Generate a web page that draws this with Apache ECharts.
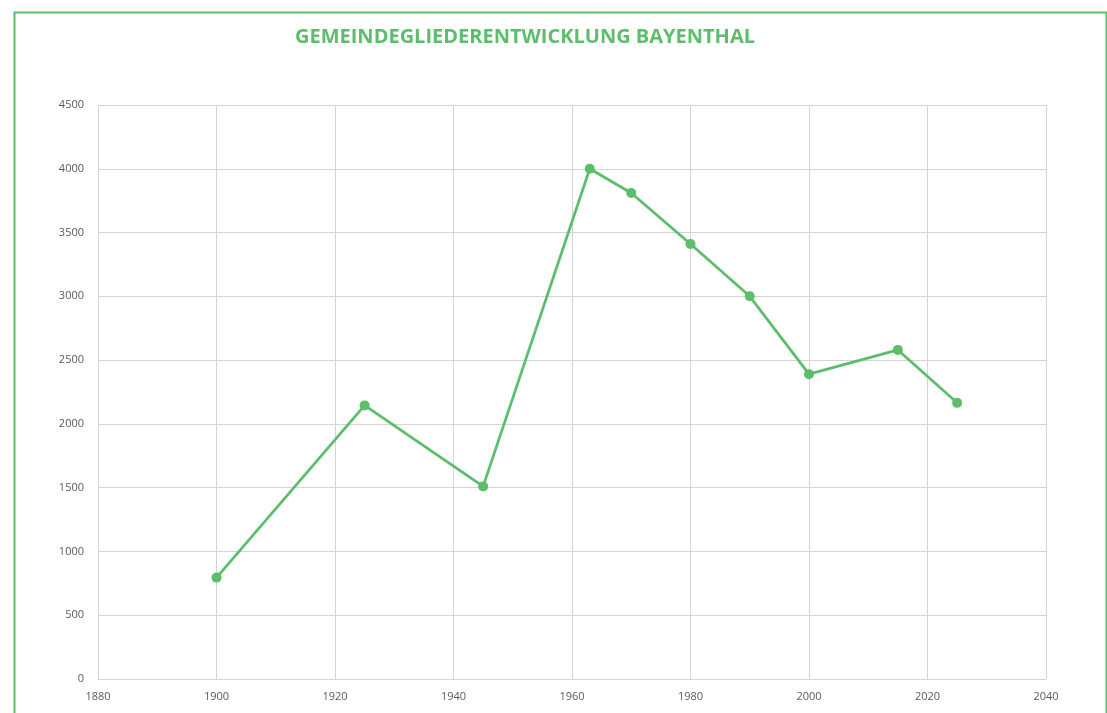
<!DOCTYPE html>
<html>
<head>
<meta charset="utf-8">
<script src="https://cdn.jsdelivr.net/npm/echarts@6/dist/echarts.min.js"></script>
<style>
html,body{margin:0;padding:0;background:#fff;}
#chart{width:1107px;height:713px;}
</style>
</head>
<body>
<div id="chart"></div>
<script>
const title = "GEMEINDEGLIEDERENTWICKLUNG BAYENTHAL";
const years = [1900, 1925, 1945, 1963, 1970, 1980, 1990, 2000, 2015, 2025];
const members = [795, 2145, 1510, 4000, 3810, 3410, 3000, 2390, 2580, 2165];

const green = "#5cbe6a";
const chart = echarts.init(document.getElementById('chart'), null, {renderer: 'canvas'});
chart.setOption({
  animation: false,
  backgroundColor: '#fff',
  graphic: [{
    type: 'rect', left: 12, top: 10,
    shape: {width: 1092, height: 720},
    style: {fill: 'none', stroke: green, lineWidth: 2}
  }],
  title: {
    text: title,
    left: 520, top: 22, textAlign: 'center',
    textStyle: {color: green, fontSize: 20, fontWeight: 'bold', fontFamily: 'Open Sans'}
  },
  grid: {left: 98, right: 61, top: 105, bottom: 34, containLabel: false},
  xAxis: {
    type: 'value', min: 1880, max: 2040, interval: 20,
    axisLine: {show: true, lineStyle: {color: '#d4d4d4', width: 1}},
    axisTick: {show: false},
    splitLine: {show: true, lineStyle: {color: '#d4d4d4', width: 1}},
    axisLabel: {color: '#595959', fontSize: 11, fontFamily: 'Open Sans', margin: 12, formatter: v => String(v)}
  },
  yAxis: {
    type: 'value', min: 0, max: 4500, interval: 500,
    axisLine: {show: false},
    axisTick: {show: false},
    splitLine: {show: true, lineStyle: {color: '#d4d4d4', width: 1}},
    axisLabel: {color: '#595959', fontSize: 11, fontFamily: 'Open Sans', margin: 14, formatter: v => String(v)}
  },
  series: [{
    type: 'line',
    data: years.map((y, i) => [y, members[i]]),
    lineStyle: {color: green, width: 2.75},
    itemStyle: {color: green},
    symbol: 'circle', symbolSize: 10,
    showSymbol: true
  }]
});
</script>
</body>
</html>
